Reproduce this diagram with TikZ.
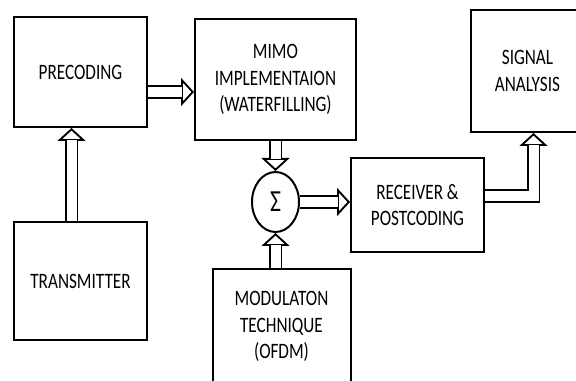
\documentclass[tikz,border=0pt]{standalone}
\usepackage{fontspec}
\setmainfont{Carlito}[FakeStretch=0.78]
\usetikzlibrary{arrows.meta,shapes.geometric,positioning,calc}

% sizes are in pt, coordinates in px (x=0.75pt)
\tikzset{
  block/.style={draw, line width=1.5pt, inner sep=0pt, align=center,
    font=\fontsize{16.5pt}{19.9pt}\selectfont},
  fat/.style={line width=1.4pt,
    -{Triangle[open, length=9.75pt, width=21pt, line width=1.4pt]},
    postaction={draw, -, double=white, double distance=7.5pt, line width=1.4pt, shorten >=9pt}}
}

\begin{document}
\begin{tikzpicture}[x=0.75pt, y=-0.75pt]
  \useasboundingbox (0,0) rectangle (576,381);

   \node[block, minimum width=99.75pt, minimum height=82.5pt] (pre) at (80.5,72) {PRECODING};
   \node[block, minimum width=99.75pt, minimum height=88.5pt] (tx) [below=69.75pt of pre] {TRANSMITTER};
   \node[block, minimum width=120.75pt, minimum height=90.75pt] (mimo) [right=34.5pt of pre, yshift=-5.625pt] {MIMO\\IMPLEMENTAION\\(WATERFILLING)};
   \node[block, ellipse, minimum width=35.25pt, minimum height=45pt, font=\fontsize{23pt}{23pt}\selectfont] (sum) [below=22.5pt of mimo] {\raisebox{-3pt}{Σ}};
   \node[block, minimum width=99.75pt, minimum height=70.5pt] (rec) [right=37.5pt of sum, yshift=-2.25pt] {RECEIVER \&\\POSTCODING};
   \node[block, minimum width=103.5pt, minimum height=86.25pt] (mod) [below=26.25pt of sum, xshift=4.5pt] {MODULATON\\TECHNIQUE\\(OFDM)};
   \node[block, minimum width=84.75pt, minimum height=91.5pt] (sig) [right=84.75pt of mimo, yshift=6.375pt] {SIGNAL\\ANALYSIS};

  % hollow arrows
  \coordinate (p) at ($(pre.east)+(0,20)$);
  \draw[fat] (p) -- (p -| mimo.west);
  \draw[fat] ($(tx.north)+(-9,0)$) -- ($(pre.south)+(-9,0)$);
    \draw[fat] (mimo.south -| sum.north) -- (sum.north);
    \draw[fat] (mod.north -| sum.south) -- (sum.south);
    \draw[fat] (sum.east) -- (sum.east -| rec.west);
  \coordinate (q) at ($(rec.east)+(0,-9)$);
    \draw[fat] (q) -| ($(sig.south)+(6,0)$);

\end{tikzpicture}
\end{document}
